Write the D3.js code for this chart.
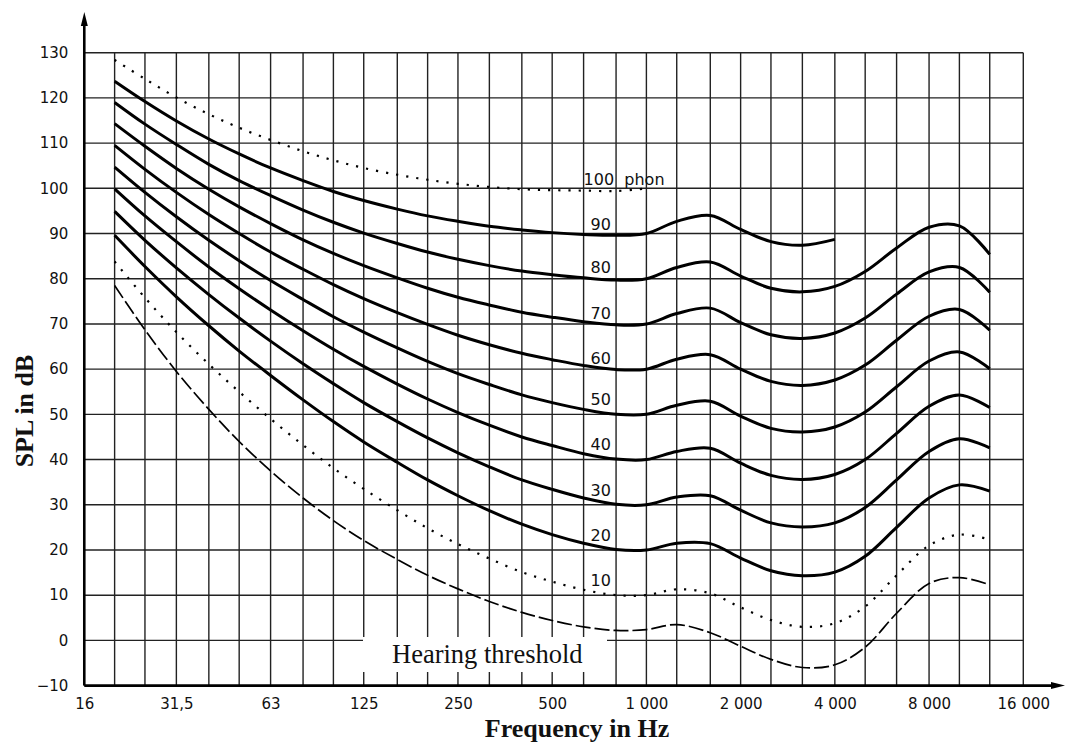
<!DOCTYPE html>
<html>
<head>
<meta charset="utf-8">
<script src="https://cdn.jsdelivr.net/npm/d3@7"></script>
<style>
body { margin: 0; background: #fff; }
</style>
</head>
<body>
<div id="chart"></div>
<script>
// third-octave frequencies the contours are read at
var freqs = [20, 25, 31.5, 40, 50, 63, 80, 100, 125, 160, 200, 250, 315, 400, 500, 630, 800,
    1000, 1250, 1600, 2000, 2500, 3150, 4000, 5000, 6300, 8000, 10000, 12500];

// SPL (dB) of each loudness contour
var phon10 = [83.8, 75.8, 68.2, 61.1, 55.0, 49.0, 43.2, 38.1, 33.5, 28.8, 24.8, 21.3, 18.1, 15.1, 13.0, 11.2, 10.0,
    10.0, 11.3, 10.4, 7.3, 4.5, 3.0, 3.8, 7.5, 14.4, 21.0, 23.4, 22.3];
var phon20 = [89.6, 82.7, 76.0, 69.6, 64.0, 58.6, 53.2, 48.4, 43.9, 39.4, 35.5, 32.0, 28.7, 25.7, 23.4, 21.5, 20.1,
    20.0, 21.5, 21.4, 18.2, 15.4, 14.3, 15.1, 18.6, 25.0, 31.5, 34.4, 33.0];
var phon30 = [94.9, 88.5, 82.4, 76.5, 71.3, 66.2, 61.2, 56.8, 52.6, 48.4, 44.8, 41.5, 38.4, 35.5, 33.4, 31.5, 30.1,
    30.0, 31.7, 32.0, 28.8, 26.0, 25.1, 26.0, 29.4, 35.5, 41.8, 44.6, 42.6];
var phon40 = [99.9, 93.9, 88.2, 82.6, 77.8, 73.1, 68.5, 64.4, 60.6, 56.7, 53.4, 50.4, 47.6, 45.0, 43.1, 41.3, 40.1,
    40.0, 41.8, 42.5, 39.2, 36.5, 35.6, 36.7, 40.0, 45.8, 51.8, 54.3, 51.5];
var phon50 = [104.7, 99.1, 93.7, 88.5, 84.0, 79.6, 75.4, 71.6, 68.2, 64.7, 61.7, 59.0, 56.6, 54.3, 52.6, 51.1, 50.0,
    50.0, 52.0, 52.9, 49.6, 46.9, 46.1, 47.2, 50.5, 56.1, 61.8, 63.8, 60.1];
var phon60 = [109.5, 104.2, 99.1, 94.2, 90.0, 85.9, 82.1, 78.7, 75.6, 72.5, 69.9, 67.5, 65.4, 63.5, 62.1, 60.8, 59.9,
    60.0, 62.2, 63.2, 60.0, 57.3, 56.4, 57.6, 60.9, 66.4, 71.7, 73.2, 68.6];
var phon70 = [114.3, 109.3, 104.4, 99.8, 95.9, 92.2, 88.6, 85.6, 82.9, 80.2, 77.9, 75.9, 74.2, 72.6, 71.5, 70.5, 69.8,
    70.0, 72.3, 73.5, 70.3, 67.6, 66.8, 68.0, 71.3, 76.6, 81.5, 82.5, 77.0];
var phon80 = [119.0, 114.2, 109.7, 105.3, 101.7, 98.4, 95.2, 92.5, 90.1, 87.8, 85.9, 84.3, 82.9, 81.7, 80.9, 80.2, 79.7,
    80.0, 82.5, 83.7, 80.6, 77.9, 77.1, 78.3, 81.6, 86.8, 91.4, 91.7, 85.4];
var phon90 = [123.7, 119.2, 114.9, 110.9, 107.6, 104.5, 101.7, 99.3, 97.3, 95.4, 93.9, 92.7, 91.6, 90.8, 90.2, 89.8, 89.6,
    90.0, 92.7, 94.0, 90.9, 88.2, 87.4, 88.7];
var phon100 = [128.4, 124.2, 120.1, 116.4, 113.4, 110.7, 108.2, 106.2, 104.5, 103.0, 101.9, 101.0, 100.3, 99.8, 99.6, 99.5, 99.4,
    100.0];
var threshold = [78.5, 68.7, 59.5, 51.1, 44.0, 37.5, 31.5, 26.5, 22.1, 17.9, 14.4, 11.4, 8.6, 6.2, 4.4, 3.0, 2.2,
    2.4, 3.5, 1.7, -1.3, -4.2, -6.0, -5.4, -1.5, 6.0, 12.6, 13.9, 12.3];

var contourLabels = ["10", "20", "30", "40", "50", "60", "70", "80", "90", "100 phon"];

// grid and tick labels
var bands = [16, 20, 25, 31.5, 40, 50, 63, 80, 100, 125, 160, 200, 250, 315, 400, 500, 630, 800,
    1000, 1250, 1600, 2000, 2500, 3150, 4000, 5000, 6300, 8000, 10000, 12500, 16000];
var xTickValues = [16, 31.5, 63, 125, 250, 500, 1000, 2000, 4000, 8000, 16000];
var xTickLabels = ["16", "31,5", "63", "125", "250", "500", "1 000", "2 000", "4 000", "8 000", "16 000"];
var yTickValues = [-10, 0, 10, 20, 30, 40, 50, 60, 70, 80, 90, 100, 110, 120, 130];

var width = 1067, height = 742;
var sansFont = "'DejaVu Sans', sans-serif";
var serifFont = "'Liberation Serif', 'Times New Roman', serif";

var svg = d3.select("#chart").append("svg")
    .attr("width", width)
    .attr("height", height);

// nominal band values sit on an even 1/10 decade spacing
var x = d3.scaleLog().domain([Math.pow(10, 1.2), Math.pow(10, 4.2)]).range([83, 1022]);
var y = d3.scaleLinear().domain([-10, 130]).range([685.6, 52.7]);

var gridColor = "#222";

var grid = svg.append("g").attr("class", "grid");
grid.selectAll("line.h")
    .data(yTickValues)
    .enter()
    .append("line")
    .attr("class", "h")
    .attr("x1", x(16))
    .attr("x2", x(16000))
    .attr("y1", function(d) { return y(d); })
    .attr("y2", function(d) { return y(d); })
    .attr("stroke", gridColor)
    .attr("stroke-width", 1.4);
grid.selectAll("line.v")
    .data(bands)
    .enter()
    .append("line")
    .attr("class", "v")
    .attr("x1", function(d) { return x(d); })
    .attr("x2", function(d) { return x(d); })
    .attr("y1", y(130))
    .attr("y2", y(-10))
    .attr("stroke", gridColor)
    .attr("stroke-width", 1.4);

// white box behind the threshold caption
svg.append("rect")
    .attr("x", 363)
    .attr("y", 637)
    .attr("width", 244)
    .attr("height", 35)
    .attr("fill", "#fff");

var line = d3.line()
    .x(function(d, i) { return x(freqs[i]); })
    .y(function(d) { return y(d); })
    .curve(d3.curveCatmullRom);

var contours = [
    {values: phon10, dash: "dot"},
    {values: phon20, dash: "solid"},
    {values: phon30, dash: "solid"},
    {values: phon40, dash: "solid"},
    {values: phon50, dash: "solid"},
    {values: phon60, dash: "solid"},
    {values: phon70, dash: "solid"},
    {values: phon80, dash: "solid"},
    {values: phon90, dash: "solid"},
    {values: phon100, dash: "dot"}
];

svg.append("g").selectAll("path")
    .data(contours)
    .enter()
    .append("path")
    .attr("d", function(d) { return line(d.values); })
    .attr("fill", "none")
    .attr("stroke", "#000")
    .attr("stroke-width", function(d) { return d.dash == "dot" ? 2.2 : 3; })
    .attr("stroke-dasharray", function(d) { return d.dash == "dot" ? "2.2,8" : null; });

svg.append("path")
    .attr("d", line(threshold))
    .attr("fill", "none")
    .attr("stroke", "#000")
    .attr("stroke-width", 1.7)
    .attr("stroke-dasharray", "15,4");

// axes with arrow heads
var x0 = x(16), y0 = y(-10);
svg.append("line")
    .attr("x1", x0).attr("x2", x0)
    .attr("y1", y0).attr("y2", 24)
    .attr("stroke", "#000").attr("stroke-width", 2.6);
svg.append("path")
    .attr("d", "M" + x0 + ",12 L" + (x0 - 3.5) + ",26 L" + (x0 + 3.5) + ",26 Z")
    .attr("fill", "#000");
svg.append("line")
    .attr("x1", x0).attr("x2", 1053)
    .attr("y1", y0).attr("y2", y0)
    .attr("stroke", "#000").attr("stroke-width", 2.6);
svg.append("path")
    .attr("d", "M1065," + y0 + " L1051," + (y0 - 3.5) + " L1051," + (y0 + 3.5) + " Z")
    .attr("fill", "#000");

// tick labels
var yAxis = svg.append("g")
    .attr("transform", "translate(" + x0 + ",0)")
    .call(d3.axisLeft(y)
        .tickValues(yTickValues)
        .tickSize(0)
        .tickPadding(16)
        .tickFormat(function(d) { return d < 0 ? "\u2212" + (-d) : d; }));
yAxis.select(".domain").remove();
yAxis.selectAll("text")
    .style("font-family", sansFont)
    .style("font-size", "15px")
    .attr("fill", "#111");

var xAxis = svg.append("g")
    .attr("transform", "translate(0," + y0 + ")")
    .call(d3.axisBottom(x)
        .tickValues(xTickValues)
        .tickSize(0)
        .tickPadding(13)
        .tickFormat(function(d, i) { return xTickLabels[i]; }));
xAxis.select(".domain").remove();
xAxis.selectAll("text")
    .style("font-family", sansFont)
    .style("font-size", "15px")
    .attr("fill", "#111")
    .style("white-space", "pre");

// contour labels
svg.append("g").selectAll("text")
    .data(contours)
    .enter()
    .append("text")
    .attr("x", function(d, i) { return i == 9 ? x(630) : x(630) + 7; })
    .attr("y", function(d, i) {
        var level = (i + 1) * 10;
        var off = level >= 90 ? 9 : (level >= 60 ? 11 : 15);
        return y(level) - off;
    })
    .attr("dy", "0.36em")
    .attr("fill", "#111")
    .style("font-family", sansFont)
    .style("font-size", "16px")
    .style("white-space", "pre")
    .text(function(d, i) { return contourLabels[i].replace(" ", "  "); });

svg.append("text")
    .attr("x", 392)
    .attr("y", 663)
    .attr("fill", "#111")
    .style("font-family", serifFont)
    .style("font-size", "26.5px")
    .text("Hearing threshold");

svg.append("text")
    .attr("x", 577)
    .attr("y", 737)
    .attr("text-anchor", "middle")
    .attr("fill", "#111")
    .style("font-family", serifFont)
    .style("font-weight", "bold")
    .style("font-size", "26px")
    .text("Frequency in Hz");

svg.append("text")
    .attr("transform", "translate(33,411) rotate(-90)")
    .attr("text-anchor", "middle")
    .attr("fill", "#111")
    .style("font-family", serifFont)
    .style("font-weight", "bold")
    .style("font-size", "26px")
    .text("SPL in dB");
</script>
</body>
</html>
